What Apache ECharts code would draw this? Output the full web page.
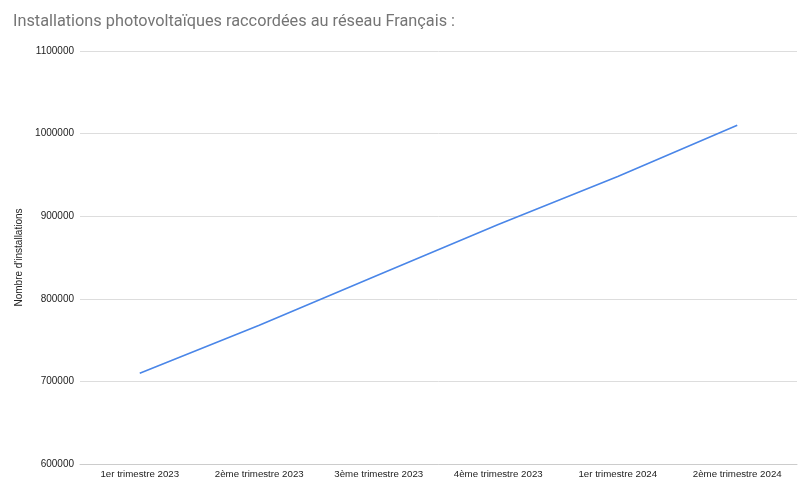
<!DOCTYPE html>
<html>
<head>
<meta charset="utf-8">
<script src="https://cdn.jsdelivr.net/npm/echarts@6/dist/echarts.min.js"></script>
<style>html,body{margin:0;padding:0;background:#fff}#c{width:800px;height:493px}</style>
</head>
<body>
<div id="c"></div>
<script>
var categories = ["1er trimestre 2023", "2ème trimestre 2023", "3ème trimestre 2023", "4ème trimestre 2023", "1er trimestre 2024", "2ème trimestre 2024"];
var installations = [710000, 768000, 829000, 890000, 948000, 1010000];
var titleText = "Installations photovoltaïques raccordées au réseau Français :";
var yAxisName = "Nombre d'installations";

var chart = echarts.init(document.getElementById('c'));
chart.setOption({
  backgroundColor: '#fff',
  animation: false,
  title: {
    text: titleText,
    left: 8, top: 9,
    textStyle: { fontFamily: 'Roboto, Arial, sans-serif', fontSize: 16.3, fontWeight: 'normal', color: '#757575' }
  },
  grid: { left: 80, right: 3, top: 51, bottom: 29 },
  xAxis: {
    type: 'category',
    data: categories,
    boundaryGap: true,
    axisLine: { show: true, lineStyle: { color: '#cccccc' } },
    axisTick: { show: false },
    axisLabel: { color: '#222', fontSize: 9.7, fontFamily: 'Arial, Liberation Sans, sans-serif', margin: 5, interval: 0 }
  },
  yAxis: {
    type: 'value',
    min: 600000, max: 1100000, interval: 100000,
    name: yAxisName,
    nameLocation: 'middle',
    nameGap: 55,
    nameTextStyle: { color: '#222', fontSize: 10, fontFamily: 'Arial, Liberation Sans, sans-serif' },
    axisLine: { show: false },
    axisTick: { show: false },
    splitLine: { lineStyle: { color: '#dddddd' } },
    axisLabel: { color: '#222', fontSize: 10, fontFamily: 'Arial, Liberation Sans, sans-serif', margin: 6, formatter: function (v) { return String(v); } }
  },
  series: [{
    type: 'line',
    data: installations,
    showSymbol: false,
    lineStyle: { color: '#4a86e8', width: 1.6 },
    itemStyle: { color: '#4a86e8' }
  }]
});
</script>
</body>
</html>
